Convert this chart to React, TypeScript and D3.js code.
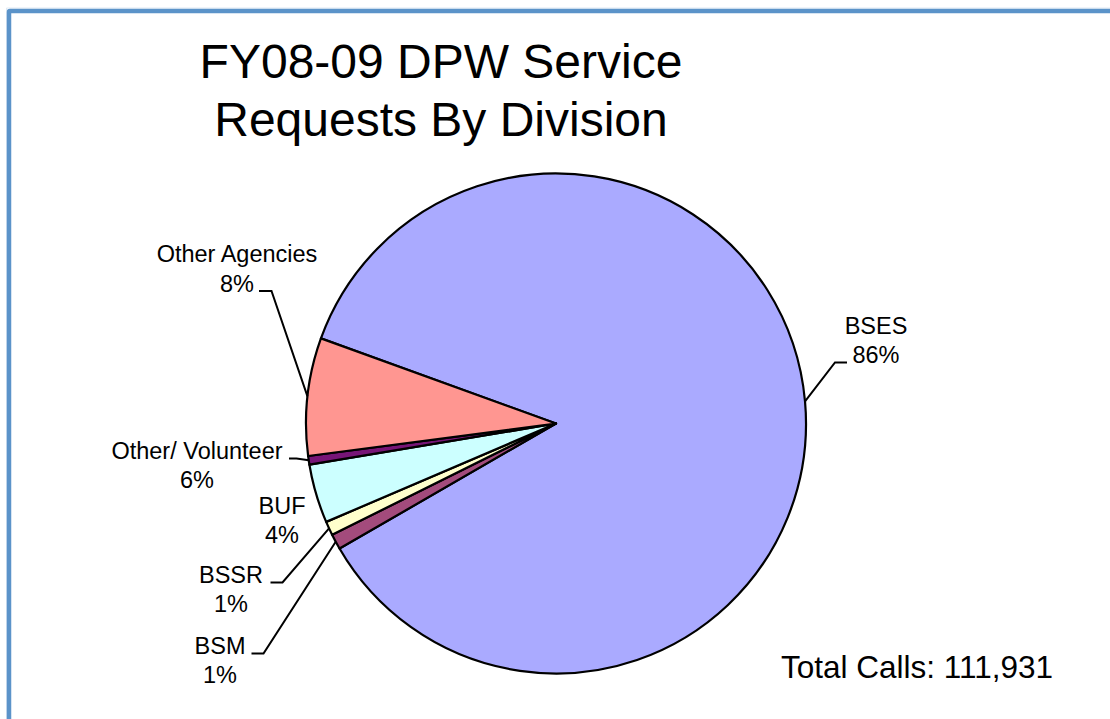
import React from "react";
import * as d3 from "d3";

const categories = ["BSES", "BSM", "BSSR", "BUF", "Other/ Volunteer", "Other Agencies"];
const shares = [86.1, 1.0, 0.9, 3.8, 0.56, 7.6];
const percentLabels = ["86%", "1%", "1%", "4%", "6%", "8%"];
const sliceColors = ["#aaaaff", "#a34b7c", "#ffffcc", "#ccffff", "#771577", "#ff9691"];
const titleLines = ["FY08-09 DPW Service", "Requests By Division"];
const totalText = "Total Calls: 111,931";

// label layout (positions only)
const labelLayout = [
  { cx: 876, y: 333.5, elbow: [835, 362.5], end: [847, 362.5] },
  { cx: 220, y: 653.5, elbow: [263.5, 653.5], end: [251.5, 653.5] },
  { cx: 231, y: 582.5, elbow: [282.5, 582.5], end: [270.5, 582.5] },
  { cx: 282, y: 513.5, elbow: null, end: null },
  { cx: 197, y: 458.5, elbow: [296.5, 458.5], end: [289, 458.5] },
  { cx: 237, y: 262, elbow: [271.5, 291], end: [259, 291] },
];

const W = 1110;
const H = 719;
const CX = 556;
const CY = 423.5;
const R = 250;
const START = (289.9 * Math.PI) / 180;
const FONT = "Arial, 'Liberation Sans', Helvetica, sans-serif";

export default function App() {
  const pie = d3
    .pie<number>()
    .sort(null)
    .value((d) => d)
    .startAngle(START)
    .endAngle(START + 2 * Math.PI);
  const arcs = pie(shares);
  const arcGen = d3.arc<d3.PieArcDatum<number>>().innerRadius(0).outerRadius(R);

  return (
    <svg
      width={W}
      height={H}
      style={{ position: "absolute", left: 0, top: 0, background: "#ffffff" }}
      fontFamily={FONT}
    >
      <rect x={0} y={0} width={W} height={H} fill="#ffffff" />
      <path d={`M 6.5 ${H} V 8 H ${W}`} fill="none" stroke="#dfe9f4" strokeWidth={1} />
      <path d={`M 9 ${H} V 12 Q 9 11 10 11 H ${W}`} fill="none" stroke="#5b93c9" strokeWidth={4.5} />

      {titleLines.map((t, i) => (
        <text key={t} x={441} y={78 + i * 58} textAnchor="middle" fontSize={48} fill="#000">
          {t}
        </text>
      ))}

      <g transform={`translate(${CX},${CY})`}>
        {arcs.map((a, i) => (
          <path
            key={categories[i]}
            d={arcGen(a) || ""}
            fill={sliceColors[i]}
            stroke="#000"
            strokeWidth={2.2}
            strokeLinejoin="round"
          />
        ))}
      </g>

      {arcs.map((a, i) => {
        const L = labelLayout[i];
        const mid = (a.startAngle + a.endAngle) / 2;
        const px = CX + R * Math.sin(mid);
        const py = CY - R * Math.cos(mid);
        return (
          <g key={"lab" + i}>
            {L.elbow && L.end && (
              <polyline
                points={`${px},${py} ${L.elbow[0]},${L.elbow[1]} ${L.end[0]},${L.end[1]}`}
                fill="none"
                stroke="#000"
                strokeWidth={2}
              />
            )}
            <text x={L.cx} y={L.y} textAnchor="middle" fontSize={23.5} fill="#000">
              {categories[i]}
            </text>
            <text x={L.cx} y={L.y + 29.5} textAnchor="middle" fontSize={23.5} fill="#000">
              {percentLabels[i]}
            </text>
          </g>
        );
      })}

      <text x={781} y={677.5} fontSize={31.5} fill="#000">
        {totalText}
      </text>
    </svg>
  );
}
